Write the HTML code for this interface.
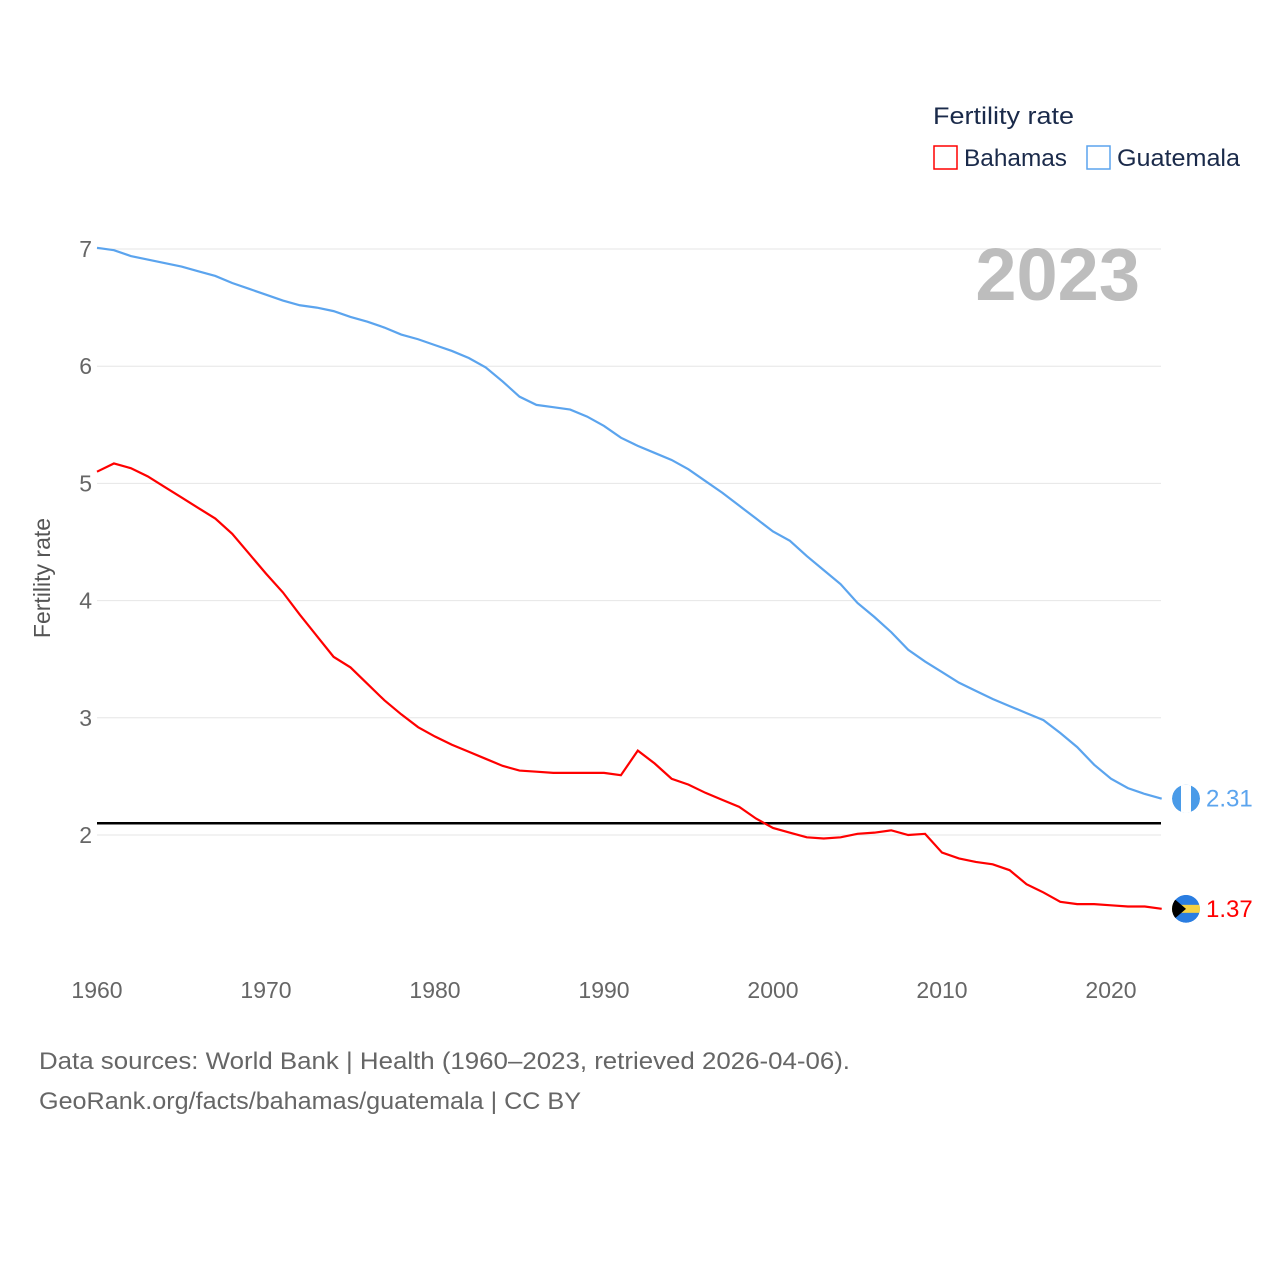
<!DOCTYPE html>
<html><head><meta charset="utf-8"><style>
body{margin:0;background:#fff;font-family:"Liberation Sans",sans-serif}
svg text{font-family:"Liberation Sans",sans-serif}
</style></head><body>
<svg id="chart" width="1280" height="1280" xmlns="http://www.w3.org/2000/svg">
<rect width="1280" height="1280" fill="#fff"/>
<g id="grid"></g>
<g id="lines"></g>
<text x="933" y="124" font-size="24" fill="#1a2a4a" textLength="141" lengthAdjust="spacingAndGlyphs">Fertility rate</text>
<rect x="934" y="146" width="23" height="23" fill="none" stroke="red" stroke-width="1.5"/>
<text x="964" y="166" font-size="24" fill="#1a2a4a" textLength="103" lengthAdjust="spacingAndGlyphs">Bahamas</text>
<rect x="1087" y="146" width="23" height="23" fill="none" stroke="#5ba4ee" stroke-width="1.5"/>
<text x="1117" y="166" font-size="24" fill="#1a2a4a" textLength="123" lengthAdjust="spacingAndGlyphs">Guatemala</text>
<text x="1140" y="300" font-size="74" font-weight="bold" fill="#bdbdbd" text-anchor="end">2023</text>
<text transform="translate(50,578) rotate(-90)" font-size="23" fill="#555" text-anchor="middle">Fertility rate</text>
<text x="39" y="1069" font-size="24" fill="#666" textLength="811" lengthAdjust="spacingAndGlyphs">Data sources: World Bank | Health (1960–2023, retrieved 2026-04-06).</text>
<text x="39" y="1109" font-size="24" fill="#666" textLength="542" lengthAdjust="spacingAndGlyphs">GeoRank.org/facts/bahamas/guatemala | CC BY</text>
</svg>
<script>
const years=[];for(let y=1960;y<=2023;y++)years.push(y);
const guatemala=[7.01,6.99,6.94,6.91,6.88,6.85,6.81,6.77,6.71,6.66,6.61,6.56,6.52,6.50,6.47,6.42,6.38,6.33,6.27,6.23,6.18,6.13,6.07,5.99,5.87,5.74,5.67,5.65,5.63,5.57,5.49,5.39,5.32,5.26,5.20,5.12,5.02,4.92,4.81,4.70,4.59,4.51,4.38,4.26,4.14,3.98,3.86,3.73,3.58,3.48,3.39,3.30,3.23,3.16,3.10,3.04,2.98,2.87,2.75,2.60,2.48,2.40,2.35,2.31];
const bahamas=[5.10,5.17,5.13,5.06,4.97,4.88,4.79,4.70,4.57,4.40,4.23,4.07,3.88,3.70,3.52,3.43,3.29,3.15,3.03,2.92,2.84,2.77,2.71,2.65,2.59,2.55,2.54,2.53,2.53,2.53,2.53,2.51,2.72,2.61,2.48,2.43,2.36,2.30,2.24,2.14,2.06,2.02,1.98,1.97,1.98,2.01,2.02,2.04,2.00,2.01,1.85,1.80,1.77,1.75,1.70,1.58,1.51,1.43,1.41,1.41,1.40,1.39,1.39,1.37];
const yTicks=[2,3,4,5,6,7];
const xTicks=[1960,1970,1980,1990,2000,2010,2020];
const replacement=2.1;
const NS='http://www.w3.org/2000/svg';
const X=y=>97+(y-1960)*16.9;
const Y=v=>835-(v-2)*117.2;
function mk(tag,attrs,parent){const e=document.createElementNS(NS,tag);for(const k in attrs)e.setAttribute(k,attrs[k]);parent.appendChild(e);return e;}
const grid=document.getElementById('grid'),lines=document.getElementById('lines');
const defs=mk('defs',{},document.getElementById('chart'));
yTicks.forEach(t=>{
 const l=mk('line',{x1:97,x2:1161,y1:Y(t),y2:Y(t),stroke:'#e6e6e6','stroke-width':1},grid);
 
 
 const tx=mk('text',{x:92,y:Y(t)+8,'font-size':23,fill:'#666','text-anchor':'end'},grid);tx.textContent=t;
 
 
});
xTicks.forEach(t=>{
 const tx=mk('text',{x:X(t),y:998,'font-size':23,fill:'#666','text-anchor':'middle'},grid);tx.textContent=t;
 
 
});
const rl=mk('line',{x1:97,x2:1161,y1:Y(replacement),y2:Y(replacement),stroke:'#000','stroke-width':2.5},lines);


function series(data,color,name,lbl){
 const p=mk('polyline',{points:data.map((v,i)=>X(years[i])+','+Y(v)).join(' '),fill:'none',stroke:color,'stroke-width':2.2},lines);
 
 
 const last=data[data.length-1],cy=Y(last);
 const cp=mk('clipPath',{id:'clip-'+name},defs);
 mk('circle',{cx:1186,cy:cy,r:14},cp);
 const g=mk('g',{'clip-path':'url(#clip-'+name+')'},lines);
 const c=mk('circle',{cx:1186,cy:cy,r:14,fill:color==='red'?'#2a7de1':'#4a9be8'},g);
 
 
 if(name==='bahamas'){
  const s=mk('rect',{x:1172,y:cy-4,width:28,height:8,fill:'#f5d142'},g);
  
  
  const t=mk('polygon',{points:`1172,${cy-12} 1186,${cy} 1172,${cy+12}`,fill:'#000'},g);
  
  
 } else {
  const s=mk('rect',{x:1181,y:cy-14,width:10,height:28,fill:'#fff'},g);
  
  
 }
 const tx=mk('text',{x:1206,y:cy+8,'font-size':24,fill:color},lines);tx.textContent=lbl(last);
 
 
}
series(guatemala,'#5ba4ee','guatemala',v=>v.toFixed(2));
series(bahamas,'red','bahamas',v=>v.toFixed(2));
</script>
</body></html>
